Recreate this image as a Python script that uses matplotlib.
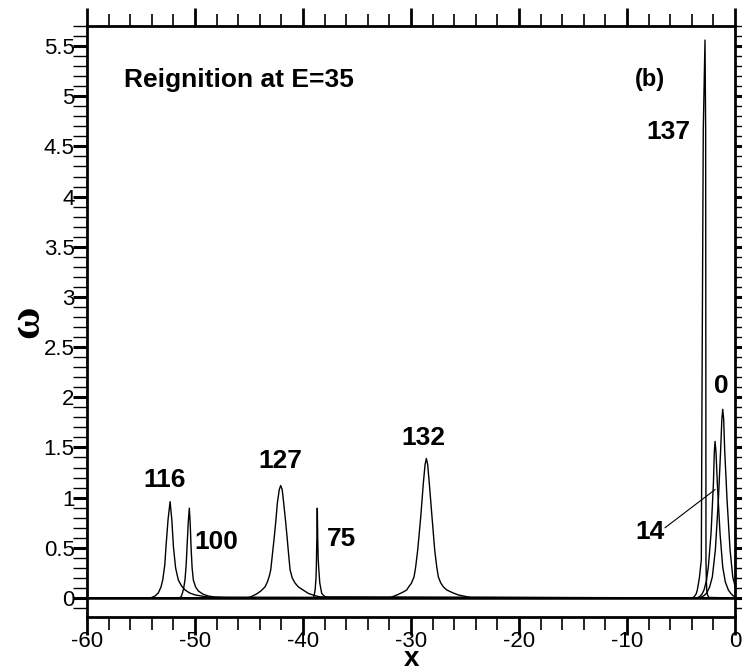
import matplotlib

matplotlib.use("Agg")
import matplotlib.pyplot as plt
from matplotlib.ticker import FormatStrFormatter, MultipleLocator

# profiles, one per labelled time
x_116 = [-60, -54.3, -54.0, -53.7, -53.4, -53.15, -52.99, -52.8, -52.69, -52.5, -52.31,
         -52.15, -52.0, -51.8, -51.55, -51.25, -50.93, -50.5, -50.0, -49.0, -47.0, 0]
y_116 = [0, 0, 0.005, 0.02, 0.05, 0.11, 0.18, 0.33, 0.51, 0.78, 0.96,
         0.78, 0.51, 0.30, 0.18, 0.12, 0.08, 0.05, 0.03, 0.012, 0.003, 0]

x_100 = [-60, -51.5, -51.3, -51.17, -51.05, -50.93, -50.82, -50.74, -50.63, -50.53,
         -50.45, -50.37, -50.27, -50.16, -49.95, -49.7, -49.3, -48.8, -48.1, 0]
y_100 = [0, 0, 0.01, 0.047, 0.10, 0.18, 0.33, 0.51, 0.75, 0.895,
         0.75, 0.51, 0.30, 0.18, 0.11, 0.07, 0.04, 0.02, 0.008, 0]

x_127 = [-60, -45.2, -44.9, -44.3, -43.9, -43.52, -43.3, -43.12, -42.99, -42.82, -42.66,
         -42.5, -42.38, -42.2, -42.07, -41.93, -41.79, -41.62, -41.48, -41.33, -41.2,
         -41.0, -40.75, -40.43, -39.5, -38.8, -38.4, 0]
y_127 = [0, 0, 0.008, 0.04, 0.07, 0.11, 0.16, 0.22, 0.28, 0.45, 0.61,
         0.79, 0.945, 1.08, 1.12, 1.08, 0.945, 0.77, 0.61, 0.43, 0.28,
         0.2, 0.15, 0.11, 0.045, 0.02, 0.01, 0]

x_75 = [-60, -39.05, -38.98, -38.88, -38.8, -38.77, -38.72, -38.68, -38.64, -38.6,
        -38.55, -38.45, -38.27, -38.0, -37.7, 0]
y_75 = [0, 0, 0.02, 0.08, 0.2, 0.3, 0.6, 0.895, 0.6, 0.4,
        0.3, 0.15, 0.045, 0.015, 0.005, 0]

x_132 = [-60, -32.2, -31.9, -31.3, -30.8, -30.4, -30.2, -29.97, -29.72, -29.57, -29.38,
         -29.1, -28.86, -28.7, -28.58, -28.46, -28.31, -28.06, -27.81, -27.62, -27.47,
         -27.25, -27.0, -26.7, -26.1, -25.62, -24.5, 0]
y_132 = [0, 0, 0.005, 0.03, 0.055, 0.08, 0.113, 0.146, 0.21, 0.31, 0.48,
         0.81, 1.145, 1.33, 1.39, 1.33, 1.145, 0.81, 0.48, 0.31, 0.21,
         0.15, 0.11, 0.08, 0.05, 0.03, 0.005, 0]

x_137 = [-60, -4.0, -3.8, -3.6, -3.49, -3.3, -3.12, -3.06, -2.94, -2.78,
         -2.72, -2.70, -2.69, -2.66, -2.62, -2.55, -2.4, 0]
y_137 = [0, 0, 0.01, 0.04, 0.08, 0.2, 0.38, 1.98, 4.67, 5.56,
         4.67, 1.98, 0.38, 0.2, 0.08, 0.03, 0.005, 0]

x_14 = [-60, -3.6, -3.3, -3.05, -2.87, -2.65, -2.47, -2.22, -2.0, -1.92, -1.85,
        -1.76, -1.64, -1.39, -1.14, -0.9, -0.62, -0.35, -0.15, 0]
y_14 = [0, 0, 0.01, 0.04, 0.08, 0.17, 0.31, 0.645, 1.145, 1.45, 1.56,
        1.45, 1.145, 0.645, 0.31, 0.16, 0.08, 0.04, 0.02, 0.015]

x_0 = [-60, -3.4, -3.1, -2.85, -2.62, -2.35, -2.1, -1.82, -1.54, -1.33, -1.22, -1.14,
       -1.05, -0.96, -0.74, -0.46, -0.21, 0]
y_0 = [0, 0, 0.01, 0.025, 0.05, 0.11, 0.21, 0.48, 0.98, 1.48, 1.78, 1.88,
       1.78, 1.48, 0.98, 0.48, 0.21, 0.12]

profiles = [(x_116, y_116), (x_100, y_100), (x_127, y_127), (x_75, y_75),
            (x_132, y_132), (x_137, y_137), (x_14, y_14), (x_0, y_0)]

# curve labels and where they sit (data coords)
labels = ["116", "100", "127", "75", "132", "137", "0"]
label_x = [-52.78, -48.0, -42.13, -36.42, -28.86, -6.18, -1.24]
label_y = [1.18, 0.56, 1.36, 0.585, 1.59, 4.64, 2.11]

plt.rcParams["font.family"] = ["Liberation Sans", "DejaVu Sans"]
plt.rcParams["axes.unicode_minus"] = False

fig = plt.figure(figsize=(7.42, 6.72), dpi=100)
ax = fig.add_axes([0.1173, 0.0818, 0.8733, 0.8795])

for xs, ys in profiles:
    ax.plot(xs, ys, color="black", lw=1.0, solid_joinstyle="round")
ax.axhline(0, color="black", lw=1.8, zorder=1)

for txt, tx, ty in zip(labels, label_x, label_y):
    ax.text(tx, ty, txt, fontsize=19, fontweight="bold", ha="center", va="center")

# label 14 with its leader line
ax.text(-7.87, 0.66, "14", fontsize=19, fontweight="bold", ha="center", va="center")
ax.plot([-6.48, -1.85], [0.70, 1.08], color="black", lw=0.8)

ax.text(-7.87, 5.17, "(b)", fontsize=17, fontweight="bold", ha="center", va="center")
ax.text(-56.57, 5.16, "Reignition at E=35", fontsize=19, fontweight="bold",
        ha="left", va="center")

ax.set_xlim(-60, 0)
ax.set_ylim(-0.19, 5.70)
ax.xaxis.set_major_locator(MultipleLocator(10))
ax.xaxis.set_minor_locator(MultipleLocator(2))
ax.yaxis.set_major_locator(MultipleLocator(0.5))
ax.yaxis.set_minor_locator(MultipleLocator(0.1))
ax.yaxis.set_major_formatter(FormatStrFormatter("%g"))

ax.tick_params(axis="x", which="major", direction="out", length=13, width=2,
               top=True, labelsize=16, pad=-3)
ax.tick_params(axis="x", which="minor", direction="out", length=9, width=1.2, top=True)
ax.tick_params(axis="y", which="major", direction="out", length=10, width=2.2,
               right=True, labelsize=16, pad=-1)
ax.tick_params(axis="y", which="minor", direction="out", length=10, width=1, right=True)
for sp in ax.spines.values():
    sp.set_linewidth(2)

# axis titles placed by baseline, as in the reference
ax.text(0.5, -0.0825, "x", transform=ax.transAxes, fontsize=20, fontweight="bold",
        ha="center", va="baseline")
ax.text(-0.0756, 0.499, "ω", transform=ax.transAxes, fontsize=32, fontweight="bold",
        family=["Liberation Serif", "DejaVu Serif"], rotation=90,
        rotation_mode="anchor", ha="center", va="baseline")

fig.savefig("out.png", dpi=100)
